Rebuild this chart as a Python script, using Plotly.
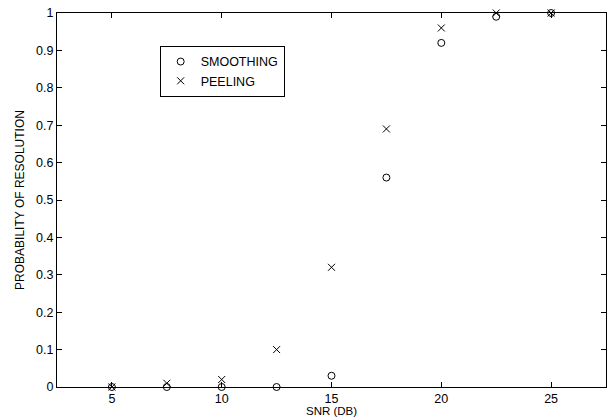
import plotly.graph_objects as go

snr = [5, 7.5, 10, 12.5, 15, 17.5, 20, 22.5, 25]
smoothing = [0, 0, 0, 0, 0.03, 0.56, 0.92, 0.99, 1.0]
peeling = [0, 0.01, 0.02, 0.1, 0.32, 0.69, 0.96, 1.0, 1.0]

x_ticks = [5, 10, 15, 20, 25]
y_ticks = [0, 0.1, 0.2, 0.3, 0.4, 0.5, 0.6, 0.7, 0.8, 0.9, 1]
y_labels = ["0", "0.1", "0.2", "0.3", "0.4", "0.5", "0.6", "0.7", "0.8", "0.9", "1"]

FONT = "Liberation Sans, Arial, Helvetica, sans-serif"

fig = go.Figure()
fig.add_trace(go.Scatter(x=snr, y=smoothing, mode="markers", name="SMOOTHING",
                         marker=dict(symbol="circle-open", size=7, color="black",
                                     line=dict(width=1, color="black")),
                         cliponaxis=False))
fig.add_trace(go.Scatter(x=snr, y=peeling, mode="markers", name="PEELING",
                         marker=dict(symbol="x-thin-open", size=7, color="black",
                                     line=dict(width=1, color="black")),
                         cliponaxis=False))

axis_common = dict(showline=True, linecolor="black", linewidth=1, mirror="ticks",
                   ticks="inside", ticklen=5, tickcolor="black", tickwidth=1,
                   showgrid=False, zeroline=False,
                   tickfont=dict(family=FONT, size=12.5, color="black"))

fig.update_layout(
    width=607, height=418,
    margin=dict(l=57, r=1, t=13, b=31),
    paper_bgcolor="white", plot_bgcolor="white",
    font=dict(family=FONT, size=12, color="black"),
    xaxis=dict(range=[2.5, 27.5], tickvals=x_ticks, **axis_common),
    yaxis=dict(range=[0, 1], tickvals=y_ticks, ticktext=y_labels,
               title=dict(text="PROBABILITY OF RESOLUTION", standoff=8, font=dict(size=12)),
               **axis_common),
    showlegend=True,
    legend=dict(x=0.187, y=0.912, xanchor="left", yanchor="top",
                bordercolor="black", borderwidth=1, bgcolor="white",
                font=dict(size=12.5), itemwidth=30, tracegroupgap=0),
    annotations=[dict(text="SNR (DB)", xref="paper", yref="paper", x=0.5, y=-0.0655,
                      xanchor="center", yanchor="middle", showarrow=False,
                      font=dict(family=FONT, size=11.5, color="black"))],
)

fig.write_html("out.html", config={"displayModeBar": False},
               post_script="document.body.style.margin='0';document.body.style.overflow='hidden';")
